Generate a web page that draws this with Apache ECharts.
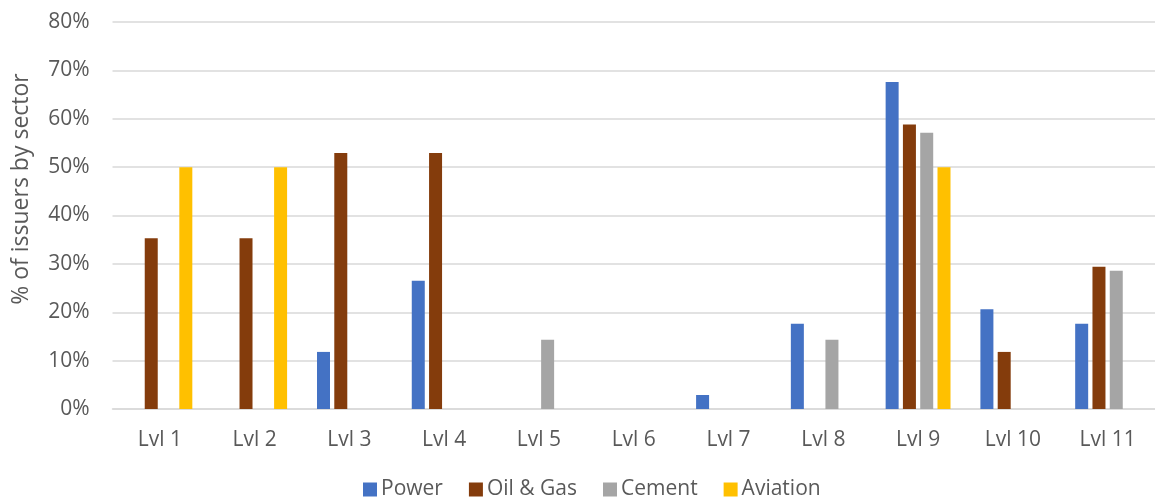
<!DOCTYPE html>
<html>
<head>
<meta charset="utf-8">
<script src="https://cdn.jsdelivr.net/npm/echarts@6/dist/echarts.min.js"></script>
<style>
  html, body { margin: 0; padding: 0; background: #ffffff; }
  #chart { width: 1155px; height: 504px; }
</style>
</head>
<body>
<div id="chart"></div>
<script>
// Share of issuers (%) reaching each level, by sector
const levels = ['Lvl 1', 'Lvl 2', 'Lvl 3', 'Lvl 4', 'Lvl 5', 'Lvl 6', 'Lvl 7', 'Lvl 8', 'Lvl 9', 'Lvl 10', 'Lvl 11'];
const power    = [0,    0,    11.8, 26.5, 0,    0, 2.9, 17.6, 67.6, 20.6, 17.6];
const oilGas   = [35.3, 35.3, 52.9, 52.9, 0,    0, 0,   0,    58.8, 11.8, 29.4];
const cement   = [0,    0,    0,    0,    14.3, 0, 0,   14.3, 57.1, 0,    28.6];
const aviation = [50,   50,   0,    0,    0,    0, 0,   0,    50,   0,    0];
const yTicks = [0, 10, 20, 30, 40, 50, 60, 70, 80];

const seriesDefs = [
  { name: 'Power',     data: power,    color: '#4472C4' },
  { name: 'Oil & Gas', data: oilGas,   color: '#843C0C' },
  { name: 'Cement',    data: cement,   color: '#A5A5A5' },
  { name: 'Aviation',  data: aviation, color: '#FFC000' }
];

const FONT = '"Open Sans", Lato, sans-serif';
const TEXT = '#595959';

const chart = echarts.init(document.getElementById('chart'), null, { renderer: 'canvas' });
chart.setOption({
  animation: false,
  backgroundColor: '#ffffff',
  textStyle: { fontFamily: FONT, color: TEXT },
  grid: { left: 112.5, right: -5, top: 22, bottom: 95, containLabel: false },
  legend: {
    bottom: -1,
    left: 358,
    itemWidth: 14,
    itemHeight: 14,
    itemGap: 26,
    icon: 'rect',
    textStyle: { fontFamily: FONT, fontSize: 21, color: TEXT, padding: [0, 0, 0, -1] },
    data: seriesDefs.map(s => s.name)
  },
  graphic: [{
    type: 'text',
    x: 21,
    y: 189,
    rotation: Math.PI / 2,
    style: {
      text: '% of issuers by sector',
      fontFamily: FONT,
      fontSize: 23,
      fill: TEXT,
      textAlign: 'center',
      textVerticalAlign: 'middle'
    }
  }],
  xAxis: {
    type: 'category',
    data: levels,
    axisLine: { show: true, lineStyle: { color: '#d9d9d9', width: 1.5 } },
    axisTick: { show: false },
    axisLabel: { margin: 21, fontFamily: FONT, fontSize: 21, color: TEXT }
  },
  yAxis: {
    type: 'value',
    min: yTicks[0],
    max: yTicks[yTicks.length - 1],
    interval: yTicks[1] - yTicks[0],
    axisLine: { show: false },
    axisTick: { show: false },
    splitLine: { lineStyle: { color: '#d9d9d9', width: 1.5 } },
    axisLabel: {
      margin: 23,
      fontFamily: FONT,
      fontSize: 21,
      color: TEXT,
      formatter: v => v + '%'
    }
  },
  series: seriesDefs.map(s => ({
    name: s.name,
    type: 'bar',
    data: s.data,
    barWidth: 13,
    barGap: '33%',
    itemStyle: { color: s.color }
  }))
});
</script>
</body>
</html>
